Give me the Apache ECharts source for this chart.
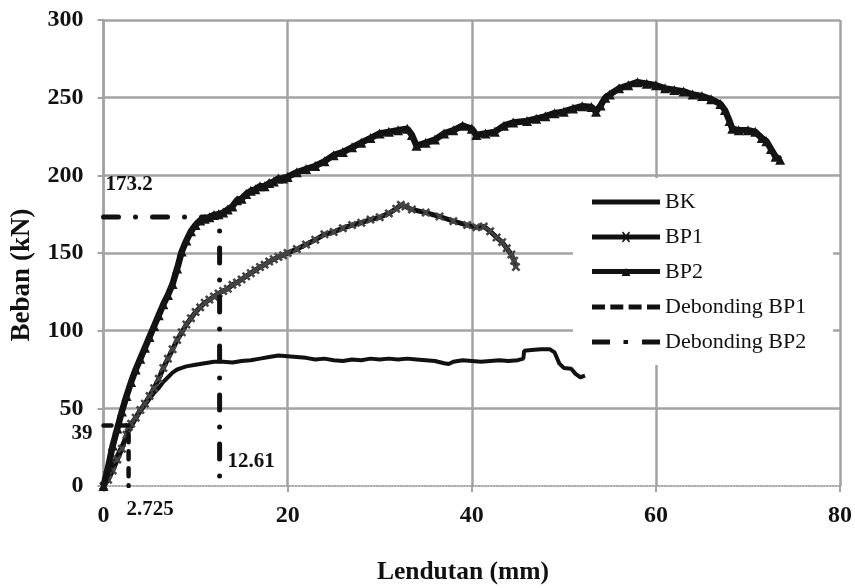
<!DOCTYPE html>
<html>
<head>
<meta charset="utf-8">
<script src="https://cdn.jsdelivr.net/npm/echarts@6/dist/echarts.min.js"></script>
<style>
html,body{margin:0;padding:0;background:#fff;}
#chart{width:855px;height:588px;}
</style>
</head>
<body>
<div id="chart"></div>
<script>
// ---- data ----
const BK = [[0,0],[0.5,6],[1,13],[1.5,20],[2,26],[2.5,32],[3,38],[3.5,43],[4,48],[4.5,52],[5,56],[5.5,60],[6,63],[6.5,67],[7,70],[7.5,73],[8,75],[8.5,76],[9,77],[10,78],[11,79],[12,80],[13,80],[14,79.5],[15,80.5],[16,81],[17,82],[18,83],[19,84],[20,83.5],[21,83],[22,82.5],[23,81.5],[24,82],[25,81],[26,80.5],[27,81.5],[28,81],[29,82],[30,81.5],[31,82],[32,81.5],[33,82],[34,81.5],[35,81],[36,80.5],[37,79],[37.5,78.5],[38,80],[39,81],[40,80.5],[41,80],[42,80.5],[43,81],[44,80.5],[45,81],[45.6,82],[45.7,87],[46.5,87.5],[47.5,88],[48.5,88],[49,86],[49.5,79],[50,76],[50.8,75.5],[51.3,72],[51.8,70],[52.3,71]];
const BP1 = [[0,0],[0.5,4],[1,10],[1.5,17],[2,24],[2.5,33],[2.75,38],[3,40],[3.5,44],[4,49],[4.5,53],[5,58],[5.5,63],[6,69],[6.5,76],[7,82],[7.5,88],[8,94],[8.5,99],[9,104],[9.5,108],[10,112],[10.5,115],[11,118],[11.5,120],[12,122],[12.5,124],[13,125.5],[13.5,127],[14,129.5],[14.5,131],[15,133],[15.5,135],[16,137],[16.5,139],[17,141],[17.5,142.5],[18,144.5],[18.5,146],[19,147.5],[19.5,148.5],[20,150],[21,152.5],[22,155.5],[23,158.5],[24,162],[25,163.5],[26,166],[27,168],[28,169.5],[29,171.5],[30,173],[31,175.5],[31.8,178.5],[32.3,181],[32.8,180],[33.5,178],[35,176],[36.5,173.5],[38,170.5],[39.5,168],[40.5,166.5],[41.3,167],[42,164],[42.7,160],[43.3,157],[43.8,153],[44.3,149],[44.6,145],[44.8,141]];
const BP2 = [[0,0],[0.5,12],[1,26],[1.5,37],[2,48],[2.5,58],[3,67],[3.5,75],[4,82],[4.5,89],[5,96],[5.5,103],[6,110],[6.5,117],[7,123],[7.5,130],[8,140],[8.5,151],[9,158],[9.5,164],[10,168],[10.5,171],[11,172],[11.5,173],[12,174.5],[12.5,175],[13,176],[13.5,178],[14,180],[14.5,184],[15,185],[15.5,188],[16,190],[16.5,191],[17,193],[17.5,193],[18,195],[18.5,196],[19,198],[19.5,198],[20,199],[21,202],[22,204],[23,206],[24,209],[25,213],[26,215],[27,218],[28,221],[29,224],[30,227],[31,228],[32,229],[33,230],[33.5,226],[34,219],[35,221],[36,223],[37,227],[38,229],[39,232],[40,230],[40.5,226],[41.5,227],[42.5,228],[43.5,232],[44.5,234],[46,235],[47,236.5],[48,238],[49,240],[50,241],[51,243],[52,244.5],[53,244],[53.5,241],[54,245],[54.5,250],[55,252],[56,256],[57,258],[58,260],[59,259],[60,258],[61,256],[62,255],[63,254],[64,252],[65,251],[66,249],[67,246],[67.5,242],[68,235],[68.3,230],[69,229],[70,229],[70.8,228],[71.5,224],[72,222],[72.5,217],[73,212],[73.5,210]];
const DEB_BP1 = [2.725, 39];
const DEB_BP2 = [12.61, 173.2];
const SERIES_NAMES = ['BK','BP1','BP2','Debonding BP1','Debonding BP2'];
const X_AXIS = {min:0, max:80, step:20};
const Y_AXIS = {min:0, max:300, step:50};

const SERIF = '"Liberation Serif", "Times New Roman", serif';
const GRID = '#a3a3a3';
const INK = '#111';
const chart = echarts.init(document.getElementById('chart'), null, {renderer:'canvas'});

function lbl(text, pos, align){
  return {show:true, formatter:text, position:pos, align:align, verticalAlign:'middle',
    fontFamily:SERIF, fontWeight:'bold', fontSize:21, color:INK};
}

const ICONS = {
  'BK':'path://M0,0 H68 V5 H0 Z',
  'BP1':'path://M0,3 H68 V8 H0 Z M31,0 L34,3.5 L37,0 L38,1 L35,5.5 L38,10 L37,11 L34,7.5 L31,11 L30,10 L33,5.5 L30,1 Z',
  'BP2':'path://M0,3 H68 V8 H0 Z M34,2 L38.5,10 L29.5,10 Z',
  'Debonding BP1':'path://M0,0 H13 V5 H0 Z M18.3,0 H31.3 V5 H18.3 Z M36.6,0 H49.6 V5 H36.6 Z M55,0 H68 V5 H55 Z',
  'Debonding BP2':'path://M0,0 H18 V5 H0 Z M31.5,0.5 H36 V4.5 H31.5 Z M50,0 H68 V5 H50 Z'
};

chart.setOption({
  animation:false,
  backgroundColor:'#fff',
  grid:{left:103.5, right:9, top:20, bottom:102},
  xAxis:{type:'value', min:X_AXIS.min, max:X_AXIS.max, interval:X_AXIS.step,
    axisLine:{show:true, onZero:false, lineStyle:{color:'#8c8c8c', width:1.5, type:'dotted'}},
    axisTick:{show:true, length:6, lineStyle:{color:GRID, width:2}},
    axisLabel:{margin:18, fontFamily:SERIF, fontWeight:'bold', fontSize:24, color:INK},
    splitLine:{show:true, lineStyle:{color:GRID, width:2.5}}
  },
  yAxis:{type:'value', min:Y_AXIS.min, max:Y_AXIS.max, interval:Y_AXIS.step,
    axisLine:{show:true, lineStyle:{color:GRID, width:2.5}},
    axisTick:{show:true, length:6, lineStyle:{color:GRID, width:2}},
    axisLabel:{margin:20, fontFamily:SERIF, fontWeight:'bold', fontSize:24, color:INK},
    splitLine:{show:true, showMinLine:false, lineStyle:{color:GRID, width:2.5}}
  },
  legend:{
    data:SERIES_NAMES.map(n => ({name:n, icon:ICONS[n], itemStyle:{color:INK, opacity:1}})),
    orient:'vertical', left:573, top:178,
    backgroundColor:'#fff', padding:[13,27,12,19],
    itemWidth:68, itemHeight:14, itemGap:13, symbolKeepAspect:true,
    textStyle:{fontFamily:SERIF, fontSize:22, color:INK}
  },
  graphic:[
    {type:'text', x:22, y:275, rotation:Math.PI/2,
      style:{text:'Beban (kN)', font:'bold 27px "Liberation Serif"', fill:INK, textAlign:'center', textVerticalAlign:'middle'}},
    {type:'text', x:463, y:572,
      style:{text:'Lendutan (mm)', font:'bold 25.5px "Liberation Serif"', fill:INK, textAlign:'center', textVerticalAlign:'middle'}}
  ],
  series:[
    {name:'BK', type:'line', data:BK, showSymbol:false, symbol:'none', z:3,
      lineStyle:{color:INK, width:4}, itemStyle:{color:INK}},
    {name:'BP1', type:'line', data:BP1, z:4,
      symbol:'path://M2,0 L5,3 L8,0 L10,2 L7,5 L10,8 L8,10 L5,7 L2,10 L0,8 L3,5 L0,2 Z', symbolSize:9, showAllSymbol:true,
      lineStyle:{color:INK, width:5}, itemStyle:{color:'#444'}},
    {name:'BP2', type:'line', data:BP2, z:6,
      symbol:'triangle', symbolSize:10, showAllSymbol:true,
      lineStyle:{color:INK, width:6.5}, itemStyle:{color:'#151515'}},
    {name:'Debonding BP1', type:'line', z:5, showSymbol:false, symbol:'none',
      data:[[0,DEB_BP1[1]],[DEB_BP1[0],DEB_BP1[1]],[DEB_BP1[0],0]],
      lineStyle:{color:INK, width:4.5, type:[8,9], cap:'round'}, itemStyle:{color:INK},
      markPoint:{symbol:'circle', symbolSize:0, silent:true, data:[
        {coord:[0,DEB_BP1[1]], label:lbl(String(DEB_BP1[1]), [-11,8], 'right')},
        {coord:[DEB_BP1[0],0], label:lbl(String(DEB_BP1[0]), [-2,24], 'left')}
      ]}},
    {name:'Debonding BP2', type:'line', z:5, showSymbol:false, symbol:'none',
      data:[[0,DEB_BP2[1]],[DEB_BP2[0],DEB_BP2[1]],[DEB_BP2[0],0]],
      lineStyle:{color:INK, width:5, type:[15,17,0.01,17], cap:'round'}, itemStyle:{color:INK},
      markPoint:{symbol:'circle', symbolSize:0, silent:true, data:[
        {coord:[0,DEB_BP2[1]], label:lbl(String(DEB_BP2[1]), [2,-32], 'left')},
        {coord:[DEB_BP2[0],0], label:lbl(String(DEB_BP2[0]), [8,-24], 'left')}
      ]}}
  ]
});
</script>
</body>
</html>
